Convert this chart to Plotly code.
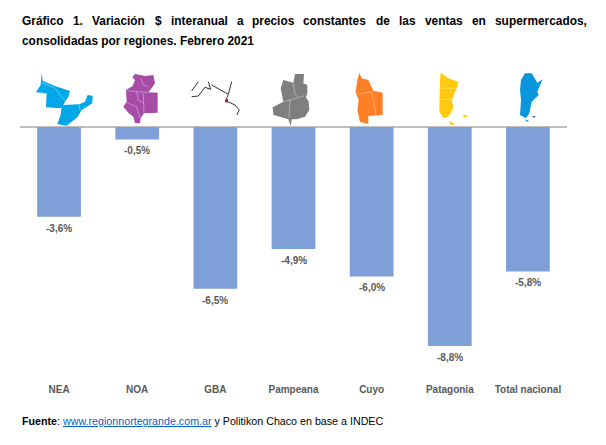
#!/usr/bin/env python3
"""Variacion interanual de ventas en supermercados por region, febrero 2021."""

import plotly.graph_objects as go

# the page body has an 8px margin, so the figure is that much smaller and
# every position below is taken from the 606x445 picture minus that margin
PAGE_MARGIN = 8
W, H = 606 - PAGE_MARGIN, 445 - PAGE_MARGIN

regiones = ["NEA", "NOA", "GBA", "Pampeana", "Cuyo", "Patagonia", "Total nacional"]
variacion = [-3.6, -0.5, -6.5, -4.9, -6.0, -8.8, -5.8]
etiquetas = ["-3,6%", "-0,5%", "-6,5%", "-4,9%", "-6,0%", "-8,8%", "-5,8%"]

titulo_palabras = ["Gráfico", "1.", "Variación", "$", "interanual", "a", "precios",
                   "constantes", "de", "las", "ventas", "en", "supermercados,"]
titulo_x = [21.5, 73, 92, 155, 171, 237, 252, 303, 376, 399, 425, 472, 495]
titulo_linea2 = "consolidadas por regiones. Febrero 2021"

# map outlines, traced in pixels of the zoomed crops (left crop and right crop)
nea = [[(65, 38), (68, 62), (105, 78), (150, 93), (145, 110), (135, 125), (132, 132), (122, 145),
        (78, 142), (80, 100), (48, 97), (62, 75)],
       [(125, 135), (178, 133), (195, 125), (203, 105), (218, 107), (217, 130), (185, 150),
        (172, 172), (140, 197), (112, 192), (122, 165)]]
nea_lineas = [[(66, 68), (105, 85), (135, 122)], [(178, 135), (180, 150)]]
noa = [[(345, 42), (375, 48), (400, 45), (405, 70), (395, 85), (385, 97), (413, 98), (413, 158),
        (372, 160), (362, 175), (360, 190), (345, 190), (340, 170), (325, 158), (310, 140),
        (320, 125), (318, 90), (338, 78), (345, 60), (337, 52)]]
noa_lineas = [[(320, 92), (350, 95), (385, 97)], [(370, 100), (372, 160)],
              [(320, 128), (350, 140), (360, 175)], [(350, 95), (355, 120), (372, 130)],
              [(362, 55), (370, 75), (385, 80)]]
pampeana = [[(825, 42), (852, 42), (850, 70), (862, 75), (862, 100), (858, 112), (866, 125), (868, 150),
             (855, 170), (830, 178), (815, 178), (812, 198), (805, 178), (785, 172), (760, 165),
             (758, 142), (790, 125), (782, 85), (790, 60), (820, 68)]]
pampeana_lineas = [[(790, 125), (810, 120), (852, 108)], [(810, 120), (807, 175)],
                   [(820, 68), (825, 100), (832, 112)]]
gba_lineas = [[(515, 93), (535, 65)],
              [(515, 110), (535, 108), (555, 82), (572, 88), (565, 65)],
              [(575, 75), (625, 103), (635, 65)],
              [(625, 103), (617, 122), (645, 135), (658, 150), (650, 165)]]
cuyo = [[(178, 38), (185, 55), (205, 60), (220, 92), (248, 98), (248, 165), (205, 168),
         (205, 192), (180, 185), (172, 150), (176, 120), (167, 95), (172, 60)]]
cuyo_lineas = [[(176, 102), (215, 95), (228, 165)]]
patagonia = [[(422, 38), (445, 55), (475, 65), (470, 85), (455, 120), (460, 145), (445, 170),
              (430, 175), (418, 155), (420, 60)],
             [(490, 166), (503, 165), (500, 171), (490, 171)],
             [(448, 183), (465, 193), (452, 195)]]
patagonia_lineas = [[(420, 85), (468, 85)], [(420, 118), (456, 118)]]
argentina = [[(675, 40), (695, 40), (712, 68), (728, 58), (712, 95), (716, 105), (695, 125),
              (688, 160), (678, 175), (660, 165), (663, 120), (660, 90), (663, 60)],
             [(675, 178), (688, 183), (680, 185)]]
malvinas = [[(698, 168), (706, 168), (706, 172), (698, 172)]]


def px_x(x):
    return (x - PAGE_MARGIN) / W


def px_y(y):
    return 1 - (y - PAGE_MARGIN) / H


def crop_path(points, ox, closed=True):
    """Turn crop pixels (3x zoom, origin ox,60) into a paper-coordinate svg path."""
    coords = [(px_x(ox + x / 3), px_y(60 + y / 3)) for x, y in points]
    path = "M" + " L".join(f"{x:.4f},{y:.4f}" for x, y in coords)
    return path + (" Z" if closed else "")


def map_shapes(polys, ox, color):
    return [dict(type="path", xref="paper", yref="paper", path=crop_path(p, ox),
                 fillcolor=color, line=dict(width=0)) for p in polys]


def line_shapes(lines, ox, color, width=0.6):
    return [dict(type="path", xref="paper", yref="paper", path=crop_path(l, ox, closed=False),
                 line=dict(color=color, width=width)) for l in lines]


fig = go.Figure()

fig.add_trace(go.Bar(
    x=regiones,
    y=variacion,
    cliponaxis=False,
    marker=dict(color="#7F9FD8", line=dict(width=0)),
))

shapes = []
shapes += map_shapes(nea, 20, "#00A7E8") + line_shapes(nea_lineas, 20, "#9FDDF5")
shapes += map_shapes(noa, 20, "#A64CA6") + line_shapes(noa_lineas, 20, "#D9B3D9")
shapes += map_shapes(pampeana, 20, "#7F7F7F") + line_shapes(pampeana_lineas, 20, "#CCCCCC")
shapes += map_shapes(cuyo, 300, "#FF7F27") + line_shapes(cuyo_lineas, 300, "#FFC9A0")
shapes += map_shapes(patagonia, 300, "#FFC90E") + line_shapes(patagonia_lineas, 300, "#FFE88A")
shapes += map_shapes(argentina, 300, "#0A96DE") + map_shapes(malvinas, 300, "#1F5FA8")
shapes += line_shapes(gba_lineas, 20, "#333333", width=1)
shapes += map_shapes([[(616, 118), (624, 118), (624, 127), (616, 127)]], 20, "#C00000")

annotations = []
for palabra, px in zip(titulo_palabras, titulo_x):
    annotations.append(dict(text=f"<b>{palabra}</b>", x=px_x(px), y=px_y(21),
                            xref="paper", yref="paper", xanchor="left", yanchor="middle",
                            showarrow=False, xshift=-2,
                            font=dict(family="Liberation Sans", size=11.9, color="black")))
annotations.append(dict(text=f"<b>{titulo_linea2}</b>", x=px_x(21.5), y=px_y(41),
                        xref="paper", yref="paper", xanchor="left", yanchor="middle",
                        showarrow=False, xshift=-2,
                        font=dict(family="Liberation Sans", size=11.9, color="black")))
annotations.append(dict(
    text="<b>Fuente</b>: <span style='color:#0563C1'><u>www.regionnortegrande.com.ar</u></span>"
         " y Politikon Chaco en base a INDEC",
    x=px_x(21.5), y=px_y(421), xref="paper", yref="paper",
    xanchor="left", yanchor="middle", showarrow=False, xshift=-2,
    font=dict(family="Liberation Sans", size=10.7, color="black")))

# data labels sit a little further from the bars than textposition outside puts them
for region, valor, etiqueta in zip(regiones, variacion, etiquetas):
    annotations.append(dict(text=f"<b>{etiqueta}</b>", x=region, y=valor, xref="x", yref="y",
                            xanchor="center", yanchor="top", showarrow=False, yshift=-4,
                            font=dict(family="Liberation Sans", size=10, color="#595959")))

fig.update_layout(
    width=W,
    height=H,
    margin=dict(l=0, r=0, t=0, b=0),
    paper_bgcolor="white",
    plot_bgcolor="white",
    showlegend=False,
    bargap=0.44,
    shapes=shapes,
    annotations=annotations,
)

fig.update_xaxes(
    domain=[px_x(20), px_x(567)],
    showgrid=False,
    showline=False,
    ticks="",
    ticklabelstandoff=6,
    tickfont=dict(family="Liberation Sans", size=10, color="#595959", weight="bold"),
)
fig.update_yaxes(
    domain=[px_y(376), px_y(127)],
    range=[-10, 0],
    showgrid=False,
    zeroline=True,
    zerolinecolor="#BFBFBF",
    zerolinewidth=1.5,
    showticklabels=False,
    ticks="",
)

fig.write_html("out.html")
